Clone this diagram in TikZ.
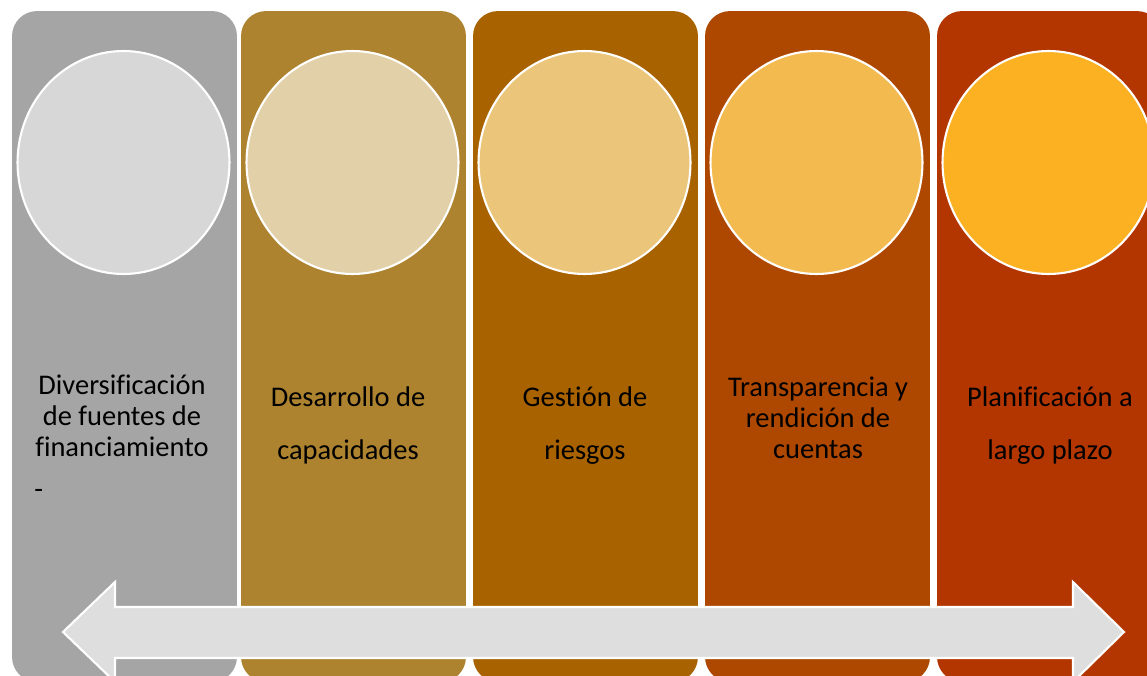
\documentclass[tikz,border=0pt]{standalone}
\usepackage{fontspec}
\setmainfont[Ligatures=CommonOff]{Carlito}
\usetikzlibrary{shapes.geometric}

\definecolor{barA}{HTML}{A5A5A5}
\definecolor{barB}{HTML}{AD832F}
\definecolor{barC}{HTML}{A86200}
\definecolor{barD}{HTML}{AE4700}
\definecolor{barE}{HTML}{B33500}
\definecolor{discA}{HTML}{D7D7D7}
\definecolor{discB}{HTML}{E1D0A8}
\definecolor{discC}{HTML}{EAC57A}
\definecolor{discD}{HTML}{F3BA50}
\definecolor{discE}{HTML}{FBB121}
\definecolor{arrowfill}{HTML}{DEDEDE}

\begin{document}
\begin{tikzpicture}[x=0.02cm,y=-0.02cm,
   bar/.style={rounded corners=0.5cm,minimum width=4.5cm,minimum height=13.42cm,inner sep=0pt},
   disc/.style={ellipse,draw=white,line width=1.2pt,minimum width=4.24cm,minimum height=4.46cm,inner sep=0pt},
   lbl/.style={font=\fontsize{16.2}{17.5}\selectfont,align=center,text=black,inner sep=0pt}]
\useasboundingbox (0,0) rectangle (1147,676);
\clip (0,0) rectangle (1147,676);
% columns and circles
\foreach \i/\cx/\bg/\fg in {1/124.5/barA/discA,2/353.5/barB/discB,3/585.5/barC/discC,
                            4/817.5/barD/discD,5/1049.5/barE/discE}{
  \node[bar,fill=\bg] (bar\i) at (\cx,346.5) {};
  \node[disc,fill=\fg] (disc\i) at (\cx-1,162.5) {};
}
% texts
\node[lbl] (txt1) at (122,416) {Diversificación\\de fuentes de\\financiamiento};
\node[lbl,anchor=west] (dash1) at (34,494) {-};
\node[lbl] (txt2) at (348,425.5) {Desarrollo de\\[12.5pt]capacidades};
\node[lbl] (txt3) at (585,425.5) {Gestión de\\[12.5pt]riesgos};
\node[lbl] (txt4) at (818,418) {Transparencia y\\rendición de\\cuentas};
\node[lbl] (txt5) at (1050,425.5) {Planificación a\\[12.5pt]largo plazo};
% double arrow
\draw[fill=arrowfill,draw=white,line width=1.2pt]
  (63,632) -- (115,582) -- (115,607) -- (1073,607) -- (1073,582) -- (1124,632)
  -- (1073,682) -- (1073,658) -- (115,658) -- (115,682) -- cycle;
\end{tikzpicture}
\end{document}
